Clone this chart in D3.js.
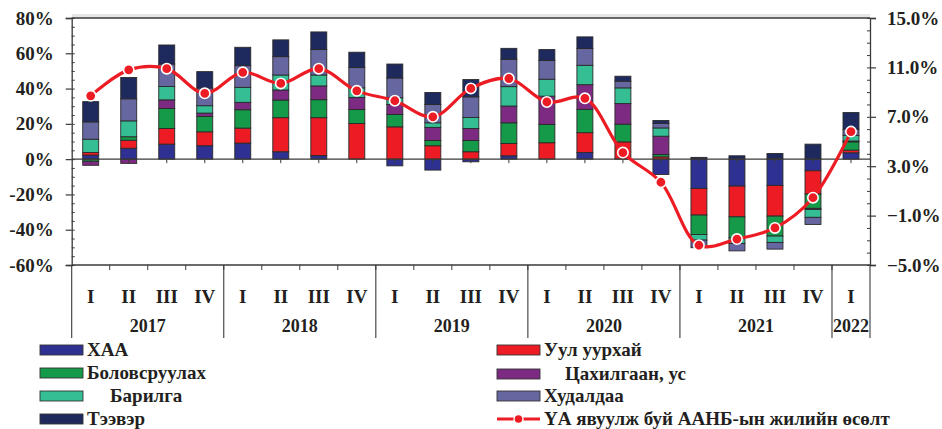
<!DOCTYPE html>
<html>
<head>
<meta charset="utf-8">
<script src="https://cdn.jsdelivr.net/npm/d3@7"></script>
<style>
  html, body { margin: 0; padding: 0; background: #fff; }
  svg { display: block; }
  text { font-family: "Liberation Serif", "Times New Roman", serif; font-weight: bold; fill: #231f20; }
</style>
</head>
<body>
<svg id="chart" width="942" height="429"></svg>
<script>
// ---------------- DATA ----------------
const quarters = ["I","II","III","IV","I","II","III","IV","I","II","III","IV","I","II","III","IV","I","II","III","IV","I"];
const years = ["2017","2018","2019","2020","2021","2022"];
const yearCounts = [4,4,4,4,4,1];

const seriesNames = ["ХАА","Уул уурхай","Боловсруулах","Цахилгаан, ус","Барилга","Худалдаа","Тээвэр"];
const haa        = [2.3, 6.2, 8.5, 7.6, 9.1, 4.2, 2.0, 0.0, -3.8, -6.2, -1.5, 1.9, 0.0, 3.8, 0.0, -8.7, -16.6, -15.3, -14.9, -6.6, 3.6];
const mining     = [1.5, 4.5, 8.9, 7.9, 8.5, 19.3, 21.5, 20.2, 18.3, 7.6, 4.2, 7.0, 9.3, 11.2, 9.8, 1.3, -15.1, -17.4, -17.4, -13.2, 1.5];
const manuf      = [-1.2, 2.0, 11.3, 8.7, 10.4, 10.0, 10.2, 7.9, 7.0, 3.0, 6.4, 11.7, 10.4, 13.2, 10.0, 1.3, -11.0, -11.9, -11.3, -8.1, 4.7];
const electric   = [-2.3, -2.4, 4.9, 1.9, 4.2, 5.7, 7.8, 6.8, 5.7, 7.4, 6.8, 9.5, 16.0, 14.0, 11.7, 10.4, 0.0, 0.0, 0.0, -0.6, 0.5];
const construct  = [7.5, 9.0, 7.6, 4.2, 8.5, 8.5, 6.2, 5.5, 3.8, 2.6, 6.2, 11.0, 9.6, 11.0, 8.9, 4.7, -3.2, -3.2, -3.6, -4.5, 3.2];
const trade      = [9.8, 12.5, 12.7, 10.0, 12.3, 10.4, 14.4, 11.5, 11.2, 10.4, 11.7, 15.5, 10.6, 9.5, 3.8, 2.5, -4.3, -4.2, -3.8, -4.0, 3.4];
const transport  = [11.5, 12.1, 10.8, 9.3, 10.4, 9.5, 10.0, 8.7, 7.9, 6.8, 9.8, 6.2, 6.2, 6.6, 2.8, 1.7, 1.0, 1.9, 3.2, 8.5, 9.5];
const growth     = [8.7, 10.8, 10.9, 8.9, 10.6, 9.7, 10.9, 9.1, 8.3, 7.0, 9.3, 10.1, 8.2, 8.5, 4.1, 1.7, -3.4, -2.9, -2.0, 0.45, 5.8];
const lineName = "ҮА явуулж буй ААНБ-ын жилийн өсөлт";

const leftTicks = [-60, -40, -20, 0, 20, 40, 60, 80];
const rightTicks = [-5, -1, 3, 7, 11, 15];

const colors = ["#2e3192", "#ed1c24", "#149a48", "#7d2a82", "#35bd93", "#6667a1", "#1e2a5e"];
const lineColor = "#ed1c24";

// ---------------- LAYOUT ----------------
const svg = d3.select("#chart");
const L = 71.7, R = 870, T = 18, B = 265;

const idx = d3.range(quarters.length);
const x = d3.scaleBand().domain(idx).range([L, R]).paddingInner(0.58).paddingOuter(0.29);
const step = x.step();
const yL = d3.scaleLinear().domain([-60, 80]).range([B, T]);
const yR = d3.scaleLinear().domain([-5, 15]).range([B, T]);

const seriesArrays = [haa, mining, manuf, electric, construct, trade, transport];
const rows = idx.map(i => {
  const o = { i };
  seriesNames.forEach((n, k) => o[n] = seriesArrays[k][i]);
  return o;
});
const stacked = d3.stack().keys(seriesNames).offset(d3.stackOffsetDiverging)(rows);

// faint shadow under top border
svg.append("rect").attr("x", L).attr("y", T - 4).attr("width", R - L).attr("height", 4)
  .attr("fill", "#e6e6e6");

// bars
const gBars = svg.append("g");
stacked.forEach((s, k) => {
  gBars.selectAll(null).data(s).join("rect")
    .attr("x", d => x(d.data.i))
    .attr("width", x.bandwidth())
    .attr("y", d => yL(Math.max(d[0], d[1])))
    .attr("height", d => Math.abs(yL(d[0]) - yL(d[1])))
    .attr("fill", colors[k])
    .attr("stroke", "#2a2a2a")
    .attr("stroke-width", 0.9);
});

// zero line with ticks at category centers
svg.append("line").attr("x1", L).attr("x2", R).attr("y1", yL(0)).attr("y2", yL(0))
  .attr("stroke", "#3a3a3a").attr("stroke-width", 1.3);
svg.append("g").selectAll(null).data(idx).join("line")
  .attr("x1", i => x(i) + x.bandwidth() / 2).attr("x2", i => x(i) + x.bandwidth() / 2)
  .attr("y1", yL(0)).attr("y2", yL(0) + 4)
  .attr("stroke", "#3a3a3a").attr("stroke-width", 1);

// top border
svg.append("line").attr("x1", L).attr("x2", R).attr("y1", T).attr("y2", T).attr("stroke", "#3a3a3a").attr("stroke-width", 1.3);

// left axis (major ticks outside + labels)
const axL = svg.append("g").attr("transform", `translate(${L},0)`)
  .call(d3.axisLeft(yL).tickValues(leftTicks).tickSize(6).tickPadding(12).tickFormat(d => d + "%"));
axL.select(".domain").attr("stroke", "#3a3a3a").attr("stroke-width", 1.3);
axL.selectAll(".tick line").attr("stroke", "#3a3a3a").attr("stroke-width", 1.2);
axL.selectAll("text").attr("font-size", 19).attr("font-family", "Liberation Serif").attr("font-weight", "bold").attr("fill", "#231f20");
// minor inner ticks
svg.append("g").attr("transform", `translate(${L},0)`)
  .call(d3.axisRight(yL).tickValues(d3.range(-60, 81, 5)).tickSize(3).tickFormat(""))
  .call(g => g.select(".domain").remove())
  .selectAll("line").attr("stroke", "#3a3a3a");

// right axis
const axR = svg.append("g").attr("transform", `translate(${R},0)`)
  .call(d3.axisRight(yR).tickValues(rightTicks).tickSize(6).tickPadding(11).tickFormat(d3.format(".1f")));
axR.selectAll("text").text(d => d3.format(".1f")(d) + "%")
  .attr("font-size", 19).attr("font-family", "Liberation Serif").attr("font-weight", "bold").attr("fill", "#231f20");
axR.select(".domain").attr("stroke", "#3a3a3a").attr("stroke-width", 1.3);
axR.selectAll(".tick line").attr("stroke", "#3a3a3a").attr("stroke-width", 1.2);
svg.append("g").attr("transform", `translate(${R},0)`)
  .call(d3.axisLeft(yR).tickValues(d3.range(-5, 16, 1)).tickSize(3).tickFormat(""))
  .call(g => g.select(".domain").remove())
  .selectAll("line").attr("stroke", "#3a3a3a");

// bottom category axis
svg.append("line").attr("x1", L).attr("x2", R).attr("y1", B).attr("y2", B).attr("stroke", "#3a3a3a").attr("stroke-width", 1.3);
svg.append("g").selectAll(null).data(d3.range(1, quarters.length)).join("line")
  .attr("x1", i => x(i) - (step - x.bandwidth()) / 2).attr("x2", i => x(i) - (step - x.bandwidth()) / 2)
  .attr("y1", B).attr("y2", B + 5).attr("stroke", "#3a3a3a");
// year separators
const cum = [0]; yearCounts.forEach(c => cum.push(cum[cum.length - 1] + c));
const sepX = k => k >= quarters.length ? R : x(k) - (step - x.bandwidth()) / 2;
svg.append("g").selectAll(null).data(cum).join("line")
  .attr("x1", k => sepX(k)).attr("x2", k => sepX(k))
  .attr("y1", B).attr("y2", 338).attr("stroke", "#3a3a3a").attr("stroke-width", 1.1);
// quarter labels
svg.append("g").selectAll(null).data(idx).join("text")
  .attr("x", i => x(i) + x.bandwidth() / 2).attr("y", 303)
  .attr("text-anchor", "middle").attr("font-size", 19).text(i => quarters[i]);
// year labels
svg.append("g").selectAll(null).data(years).join("text")
  .attr("x", (d, k) => (sepX(cum[k]) + sepX(cum[k + 1])) / 2).attr("y", 332)
  .attr("text-anchor", "middle").attr("font-size", 18).text(d => d);

// growth line
const line = d3.line().x((d, i) => x(i) + x.bandwidth() / 2).y(d => yR(d)).curve(d3.curveCatmullRom.alpha(0.5));
svg.append("path").datum(growth).attr("d", line).attr("fill", "none")
  .attr("stroke", lineColor).attr("stroke-width", 3.2);
svg.append("g").selectAll(null).data(growth).join("circle")
  .attr("cx", (d, i) => x(i) + x.bandwidth() / 2).attr("cy", d => yR(d)).attr("r", 5.2)
  .attr("fill", lineColor).attr("stroke", "#fff").attr("stroke-width", 1.6);

// legend
const legendItems = [
  { name: seriesNames[0], color: colors[0], x: 40, tx: 87, y: 350 },
  { name: seriesNames[2], color: colors[2], x: 40, tx: 87, y: 373 },
  { name: seriesNames[4], color: colors[4], x: 40, tx: 110, y: 396 },
  { name: seriesNames[6], color: colors[6], x: 40, tx: 87, y: 419 },
  { name: seriesNames[1], color: colors[1], x: 497, tx: 544, y: 350 },
  { name: seriesNames[3], color: colors[3], x: 497, tx: 565, y: 374 },
  { name: seriesNames[5], color: colors[5], x: 497, tx: 544, y: 396 }
];
const gl = svg.append("g");
legendItems.forEach(it => {
  gl.append("rect").attr("x", it.x).attr("y", it.y - 5).attr("width", 43).attr("height", 10)
    .attr("fill", it.color).attr("stroke", "#333").attr("stroke-width", 0.9);
  gl.append("text").attr("x", it.tx).attr("y", it.y + 6).attr("font-size", 19).text(it.name);
});
gl.append("line").attr("x1", 497).attr("x2", 540).attr("y1", 419).attr("y2", 419)
  .attr("stroke", lineColor).attr("stroke-width", 3.2);
gl.append("circle").attr("cx", 518.5).attr("cy", 419).attr("r", 4.5)
  .attr("fill", lineColor).attr("stroke", "#fff").attr("stroke-width", 1.4);
gl.append("text").attr("x", 544).attr("y", 425).attr("font-size", 19).text(lineName);
</script>
</body>
</html>
